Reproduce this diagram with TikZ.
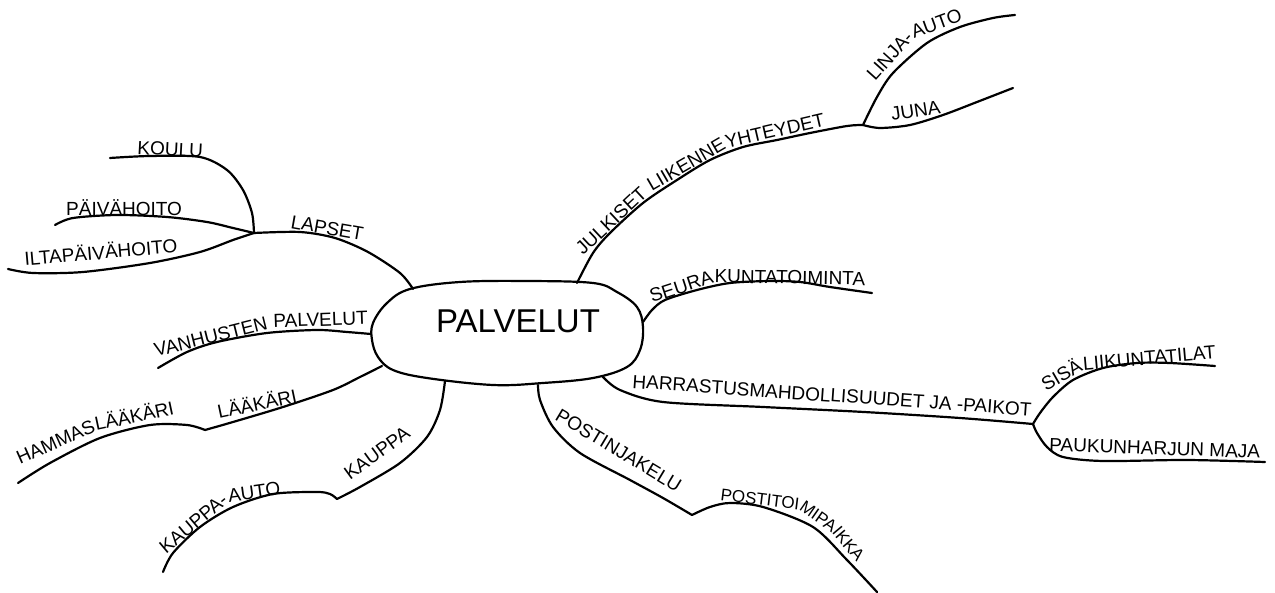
\documentclass[tikz,border=0pt]{standalone}
\usepackage{fontspec}
\setmainfont{Liberation Sans}
\newcommand{\turnpart}[2]{\smash{\rotatebox{#1}{#2}}}
\begin{document}
\begin{tikzpicture}[x=1pt,y=-1pt,
  line cap=round, line join=round,
  branch/.style={draw=black, line width=2.2pt},
  lbl/.style={anchor=base west, inner sep=0pt, font=\fontsize{19}{19}\selectfont},
  hubtxt/.style={anchor=center, inner sep=0pt, font=\fontsize{33}{33}\selectfont}]
\fill[white] (0,0) rectangle (1275,593);
\useasboundingbox (0,0) rectangle (1275,593);

% hub
\draw[branch] plot[smooth cycle, tension=0.6] coordinates {
  (410,289) (460,282) (527,281) (593,283) (617,292) (637,307) (643,327)
  (640,350) (627,367) (593,378) (543,383) (493,385) (427,378) (393,370)
  (378,357) (372,340) (373,323) (387,303)};
\node[hubtxt] (hub) at (518,321) {PALVELUT};

% named points
\coordinate (jL) at (254,233);
\coordinate (hLapset) at (413,289);
\coordinate (eKoulu) at (110,158);
\coordinate (ePaiva) at (55,225);
\coordinate (eIlta) at (8,269);
\coordinate (eVanh) at (158,368);
\coordinate (hVanh) at (371,334);
\coordinate (jH) at (205,430);
\coordinate (hLaak) at (382,366);
\coordinate (eHamm) at (18,483);
\coordinate (jK) at (337,499);
\coordinate (hKauppa) at (445,381);
\coordinate (eKA) at (163,572);
\coordinate (hJulk) at (577,283);
\coordinate (jJ) at (863,125);
\coordinate (eLinja) at (1015,15);
\coordinate (eJuna) at (1013,88);
\coordinate (hSeura) at (643,322);
\coordinate (eSeura) at (872,293);
\coordinate (hHarr) at (603,377);
\coordinate (jHa) at (1033,424);
\coordinate (eSis) at (1215,366);
\coordinate (ePauk) at (1265,462);
\coordinate (hPostin) at (538,385);
\coordinate (jP) at (692,515);
\coordinate (ePosti) at (877,592);

% branches
\draw[branch] plot[smooth] coordinates {(jL) (300,232) (335,238) (368,252) (400,273) (hLapset)};
\draw[branch] plot[smooth] coordinates {(eKoulu) (150,156) (200,157) (227,170) (243,190) (252,213) (jL)};
\draw[branch] plot[smooth] coordinates {(ePaiva) (73,218) (117,215) (167,217) (207,222) (233,228) (jL)};
\draw[branch] plot[smooth] coordinates {(eIlta) (33,273) (83,272) (150,263) (200,252) (233,240) (jL)};
\draw[branch] plot[smooth] coordinates {(eVanh) (187,352) (217,342) (267,333) (317,330) (347,332) (hVanh)};
\draw[branch] plot[smooth] coordinates {(jH) (233,422) (283,407) (333,390) (360,377) (hLaak)};
\draw[branch] plot[smooth] coordinates {(eHamm) (50,463) (100,438) (150,425) (187,425) (jH)};
\draw[branch] plot[smooth] coordinates {(jK) (360,487) (400,463) (427,437) (440,410) (hKauppa)};
\draw[branch] plot[smooth] coordinates {(eKA) (173,553) (200,527) (233,507) (273,494) (317,492) (330,494) (jK)};
\draw[branch] plot[smooth] coordinates {(hJulk) (593,253) (610,233) (643,203) (677,180) (710,160) (743,147) (777,140) (810,133) (847,126) (jJ)};
\draw[branch] plot[smooth] coordinates {(jJ) (877,97) (893,73) (927,43) (960,27) (993,18) (eLinja)};
\draw[branch] plot[smooth] coordinates {(jJ) (880,128) (910,125) (943,115) (977,102) (eJuna)};
\draw[branch] plot[smooth] coordinates {(hSeura) (652,310) (665,300) (697,290) (730,283) (770,281) (800,282) (830,287) (eSeura)};
\draw[branch] plot[smooth] coordinates {(hHarr) (620,390) (663,402) (763,407) (864,412) (960,418) (jHa)};
\draw[branch] plot[smooth] coordinates {(jHa) (1040,413) (1053,397) (1073,380) (1103,368) (1137,363) (1170,363) (eSis)};
\draw[branch] plot[smooth] coordinates {(jHa) (1037,433) (1047,447) (1063,457) (1103,461) (1187,460) (ePauk)};
\draw[branch] plot[smooth] coordinates {(hPostin) (540,400) (553,427) (580,453) (630,480) (663,498) (jP)};
\draw[branch] plot[smooth] coordinates {(jP) (710,507) (730,503) (763,507) (813,527) (847,560) (ePosti)};

% labels
\node[lbl, rotate=-3] (tKoulu) at (137,154) {KOULU};
\node[lbl] (tPaiva) at (66,216) {PÄIVÄHOITO};
\node[lbl, rotate=5] (tIlta) at (25,266) {ILTAPÄIVÄHOITO};
\node[lbl, rotate=-10] (tLapset) at (290,228) {LAPSET};
\node[lbl, rotate=14] (tVanh) at (156,357) {VANHUSTEN \turnpart{-12}{PALVELUT}};
\node[lbl, rotate=12] (tLaak) at (219,419) {LÄÄKÄRI};
\node[lbl, rotate=24] (tHamm) at (20,465) {HAMMAS\turnpart{-12}{LÄÄKÄRI}};
\node[lbl, rotate=36] (tKauppa) at (350,481) {KAUPPA};
\node[lbl, rotate=40] (tKA) at (166,555) {KAUPPA-\turnpart{-32}{AUTO}};
\node[lbl, rotate=43] (tJulk) at (583,256) {JULKISET \turnpart{-13}{LIIKENNE\turnpart{-17}{YHTEYDET}}};
\node[lbl, rotate=48] (tLinja) at (875,82) {LINJA-\turnpart{-28}{AUTO}};
\node[lbl, rotate=9] (tJuna) at (892,121) {JUNA};
\node[lbl, rotate=18] (tSeura) at (652,303) {SEURA\turnpart{-19}{KUNTATOIMINTA}};
\node[lbl, rotate=-4] (tHarr) at (632,388) {HARRASTUSMAHDOLLISUUDET JA -PAIKOT};
\node[lbl, rotate=30] (tSis) at (1046,392) {SISÄ\turnpart{-25}{LIIKUNTATILAT}};
\node[lbl, rotate=-2] (tPauk) at (1049,451) {PAUKUNHARJUN MAJA};
\node[lbl, rotate=-31] (tPostin) at (554,419) {POSTINJAKELU};
\node[lbl, rotate=-7, font=\fontsize{17}{17}\selectfont] (tPosti) at (720,500) {POSTITOI\turnpart{-28}{MIPA\turnpart{-15}{IKKA}}};
\end{tikzpicture}
\end{document}
